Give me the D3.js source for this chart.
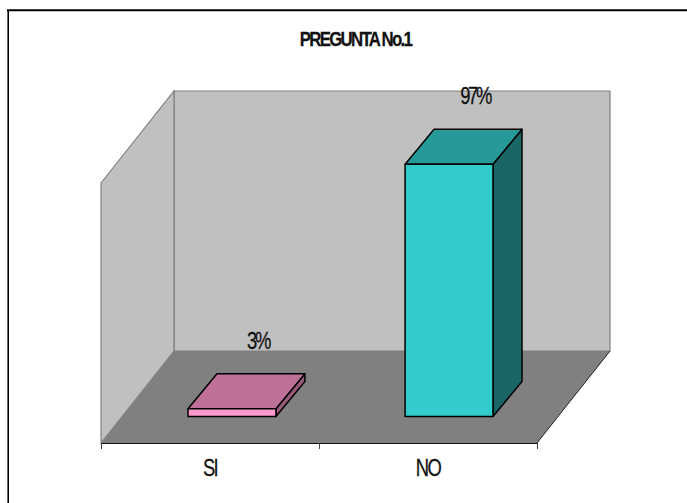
<!DOCTYPE html>
<html>
<head>
<meta charset="utf-8">
<script src="https://cdn.jsdelivr.net/npm/d3@7/dist/d3.min.js"></script>
<style>
html,body{margin:0;padding:0;background:#fff;}
svg{display:block;}
text{font-family:"Liberation Sans",Arial,sans-serif;fill:#111;stroke:#111;stroke-width:0.25px;}
</style>
</head>
<body>
<svg id="chart" width="687" height="503"></svg>
<script>
// Survey results for question 1
const categories = ["SI", "NO"];
const percentages = [3, 97];
const labels = ["3%", "97%"];
const chartTitle = "PREGUNTA No.1";
const frontColors = ["#ff99cc", "#33cccc"];
const topColors = ["#bf7099", "#269999"];
const sideColors = ["#995a7a", "#1a6666"];

const svg = d3.select("#chart");

// Oblique projection: the floor runs from the front edge to the back wall
const floorFront = 443, floorLeft = 101, floorRight = 537;
const depthX = 73, depthY = -92;

const x = d3.scaleBand().domain(categories).range([188, 493]).paddingInner(0.595).paddingOuter(0);
const y = d3.scaleLinear().domain([0, 100]).range([0, 260]);

const pts = a => a.map(p => p.join(",")).join(" ");
const wallBase = floorFront + depthY;
const wallTop = wallBase - y(100);

// Condensed text: glyphs squeezed horizontally around their anchor
function label(cx, baseline, str, size, squeeze, spacing, weight) {
  return svg.append("text")
    .attr("transform", `translate(${cx},${baseline}) scale(${squeeze},1)`)
    .attr("text-anchor", "middle")
    .attr("font-size", size)
    .attr("font-weight", weight || "normal")
    .attr("letter-spacing", spacing)
    .text(str);
}

// Frame: only the top and left edges are ruled
svg.append("line").attr("x1", 7).attr("x2", 687).attr("y1", 10.3).attr("y2", 10.3)
  .attr("stroke", "#000").attr("stroke-width", 2);
svg.append("line").attr("x1", 8.2).attr("x2", 8.2).attr("y1", 10).attr("y2", 503)
  .attr("stroke", "#000").attr("stroke-width", 1.6);

// Back wall, side wall and floor
svg.append("polygon")
  .attr("points", pts([[floorLeft + depthX, wallTop], [floorRight + depthX, wallTop], [floorRight + depthX, wallBase], [floorLeft + depthX, wallBase]]))
  .attr("fill", "#c0c0c0").attr("stroke", "#808080").attr("stroke-width", 1.2);
svg.append("polygon")
  .attr("points", pts([[floorLeft, floorFront - y(100)], [floorLeft + depthX, wallTop], [floorLeft + depthX, wallBase], [floorLeft, floorFront]]))
  .attr("fill", "#c0c0c0").attr("stroke", "#808080").attr("stroke-width", 1.2);
svg.append("polygon")
  .attr("points", pts([[floorLeft, floorFront], [floorRight, floorFront], [floorRight + depthX, wallBase], [floorLeft + depthX, wallBase]]))
  .attr("fill", "#808080");
svg.append("line")
  .attr("x1", floorRight).attr("y1", floorFront).attr("x2", floorRight + depthX).attr("y2", wallBase)
  .attr("stroke", "#222").attr("stroke-width", 1);

// Category axis along the front edge of the floor
const axisScale = d3.scaleBand().domain(categories).range([floorLeft, floorRight]);
svg.append("line").attr("x1", floorLeft).attr("x2", floorRight).attr("y1", floorFront + 0.5).attr("y2", floorFront + 0.5)
  .attr("stroke", "#111").attr("stroke-width", 1);
const tickXs = [floorLeft, axisScale(categories[1]), floorRight];
svg.selectAll("line.tick").data(tickXs).join("line").attr("class", "tick")
  .attr("x1", d => d + 0.5).attr("x2", d => d + 0.5)
  .attr("y1", floorFront).attr("y2", floorFront + 6)
  .attr("stroke", "#444").attr("stroke-width", 1);

categories.forEach(c => label(axisScale(c) + axisScale.bandwidth() / 2, 476, c, 23, 0.8, -2));

// Bars as three-faced prisms standing on the floor
const barBase = 416.5, barDepthX = 29, barDepthY = -35;
const bars = svg.selectAll("g.bar").data(categories).join("g").attr("class", "bar");
const face = (sel, color, fn) => sel.append("polygon")
  .attr("fill", (d, i) => color[i])
  .attr("stroke", "#000").attr("stroke-width", 1.5).attr("stroke-linejoin", "round")
  .attr("points", (d, i) => pts(fn(x(d), x(d) + x.bandwidth(), barBase - y(percentages[i]))));

face(bars, sideColors, (l, r, t) => [[r, t], [r + barDepthX, t + barDepthY], [r + barDepthX, barBase + barDepthY], [r, barBase]]);
face(bars, topColors, (l, r, t) => [[l, t], [l + barDepthX, t + barDepthY], [r + barDepthX, t + barDepthY], [r, t]]);
face(bars, frontColors, (l, r, t) => [[l, t], [r, t], [r, barBase], [l, barBase]]);

// Value labels above each bar
categories.forEach((c, i) => {
  label(x(c) + x.bandwidth() / 2 + 26, barBase - y(percentages[i]) + barDepthY - 25, labels[i], 23, 0.8, -3);
});

// Chart heading
label(355.5, 46, chartTitle, 21, 0.8, -2.1, "bold");
</script>
</body>
</html>
